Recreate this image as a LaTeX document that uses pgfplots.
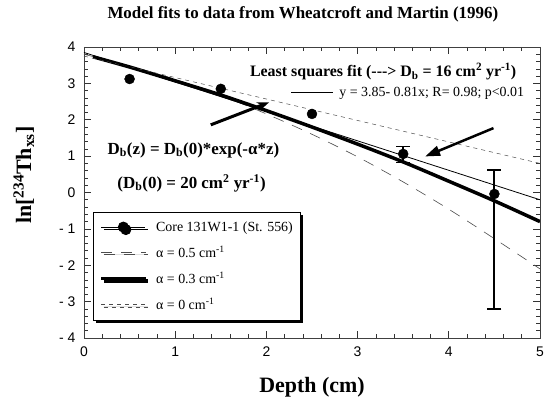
\documentclass[border=0pt]{standalone}
\usepackage{fontspec}
\setmainfont{Liberation Serif}
\newfontfamily\sansf{Liberation Sans}
\usepackage{pgfplots}
\pgfplotsset{compat=1.18}
\usetikzlibrary{arrows.meta,shadows}
\begin{document}
\begin{tikzpicture}
\begin{axis}[
  at={(0,0)}, anchor=south west,
  scale only axis, width=456bp, height=291bp,
  xmin=0, xmax=5, ymin=-4, ymax=4,
  xtick={0,1,2,3,4,5}, ytick={-4,-3,-2,-1,0,1,2,3,4},
  yticklabels={- 4,- 3,- 2,- 1,0,1,2,3,4},
  minor tick num=4,
  tick align=inside,
  major tick length=7bp, minor tick length=4bp,
  every tick/.style={black!80, line width=0.6bp},
  axis line style={line width=0.8bp, black!75},
  ticklabel style={font=\sansf\fontsize{14}{14}\selectfont},
  xticklabel style={yshift=-5bp},
  yticklabel style={xshift=-5bp},
  /pgf/number format/assume math mode=true,
  xlabel={\textbf{Depth (cm)}},
  xlabel style={font=\fontsize{22}{22}\selectfont, at={(axis description cs:0.5,-0.168)}, anchor=center},
  ylabel={\textbf{ln[\textsuperscript{234}Th\textsubscript{xs}]}},
  ylabel style={font=\fontsize{22}{22}\selectfont, at={(axis description cs:-0.132,0.56)}, anchor=center},
  title={\textbf{Model fits to data from Wheatcroft and Martin (1996)}},
  title style={font=\fontsize{17}{17}\selectfont, at={(axis description cs:0.48,1.093)}, anchor=center},
  legend image code/.code={\draw[mark repeat=2,mark phase=2,#1] plot coordinates {(0bp,0bp) (22bp,0bp) (44bp,0bp)};},
  legend cell align=left,
  legend style={at={(axis description cs:0.02,0.433)}, anchor=north west,
    draw=black, line width=1bp, fill=white,
    drop shadow={shadow xshift=2.5bp, shadow yshift=-2.5bp, fill=black, opacity=1},
    font=\fontsize{14}{14}\selectfont, row sep=9bp, column sep=7bp, inner xsep=6bp, inner ysep=7bp},
]
% error bars (points with measured uncertainty)
\addplot[black, forget plot, only marks, mark=none,
  error bars/.cd, y dir=both, y explicit,
  error bar style={line width=1.8bp},
  error mark options={rotate=90, mark size=7bp, line width=1.5bp}]
  coordinates {
    (3.5,1.06) += (0,0.20) -= (0,0.24)
    (4.5,-0.04) += (0,0.66) -= (0,3.16)
  };
% data
\addplot[black, only marks, mark=*, mark size=5bp,
  legend image code/.code={\draw[black, line width=0.8bp] (0bp,0bp)--(44bp,0bp); \fill[black] (22bp,0bp) circle (5bp);}]
  coordinates {(0.5,3.12) (1.5,2.85) (2.5,2.16) (3.5,1.06) (4.5,-0.04)};
\addlegendentry{Core 131W1-1 (St. 556)}
% alpha = 0.5
\addplot[black!70, line width=0.6bp, dash pattern=on 11bp off 9bp, smooth]
  coordinates {(0,3.80) (0.5,3.48) (1,3.11) (1.5,2.67) (2,2.16) (2.5,1.60) (3,0.98) (3.5,0.29) (4,-0.46) (4.5,-1.27) (5,-2.10)};
\addlegendentry{α = 0.5 cm\textsuperscript{-1}}
% alpha = 0.3
\addplot[black, line width=3.5bp, smooth]
  coordinates {(0.1,3.73) (0.5,3.45) (1,3.07) (1.5,2.68) (2,2.25) (2.5,1.80) (3,1.33) (3.5,0.84) (4,0.31) (4.5,-0.23) (5,-0.80)};
\addlegendentry{α = 0.3 cm\textsuperscript{-1}}
% alpha = 0
\addplot[black!70, line width=0.5bp, dash pattern=on 4bp off 4bp]
  coordinates {(0,3.75) (5,0.80)};
\addlegendentry{α = 0 cm\textsuperscript{-1}}
% least squares
\addplot[black, line width=0.8bp, forget plot]
  coordinates {(0,3.85) (5,-0.20)};
% annotations
\node[font=\bfseries\fontsize{16}{16}\selectfont] at (axis cs:3.28,3.32)
  {Least squares fit (-{}-{}-> D\textsubscript{b} = 16 cm\textsuperscript{2} yr\textsuperscript{-1})};
\node[font=\fontsize{14}{14}\selectfont] at (axis cs:3.55,2.73)
  {\rule[0.3em]{42bp}{0.6bp}\hspace{6bp}y = 3.85- 0.81x; R= 0.98; p<0.01};
\node[font=\bfseries\fontsize{17}{17}\selectfont] at (axis cs:1.20,1.17)
  {D\textsubscript{b}(z) = D\textsubscript{b}(0)*exp(-α*z)};
\node[font=\bfseries\fontsize{17}{17}\selectfont] at (axis cs:1.18,0.26)
  {(D\textsubscript{b}(0) = 20 cm\textsuperscript{2} yr\textsuperscript{-1})};
\draw[black, line width=2.5bp, -{Triangle[length=15bp,width=10bp]}] (axis cs:4.49,1.77) -- (axis cs:3.74,0.99);
\draw[black, line width=3bp, -{Stealth[length=12bp,width=9bp]}] (axis cs:1.39,1.86) -- (axis cs:2.03,2.48);
\end{axis}
\pgfresetboundingbox
\path (-84bp,-64bp) rectangle (461bp,338bp);
\end{tikzpicture}
\end{document}
